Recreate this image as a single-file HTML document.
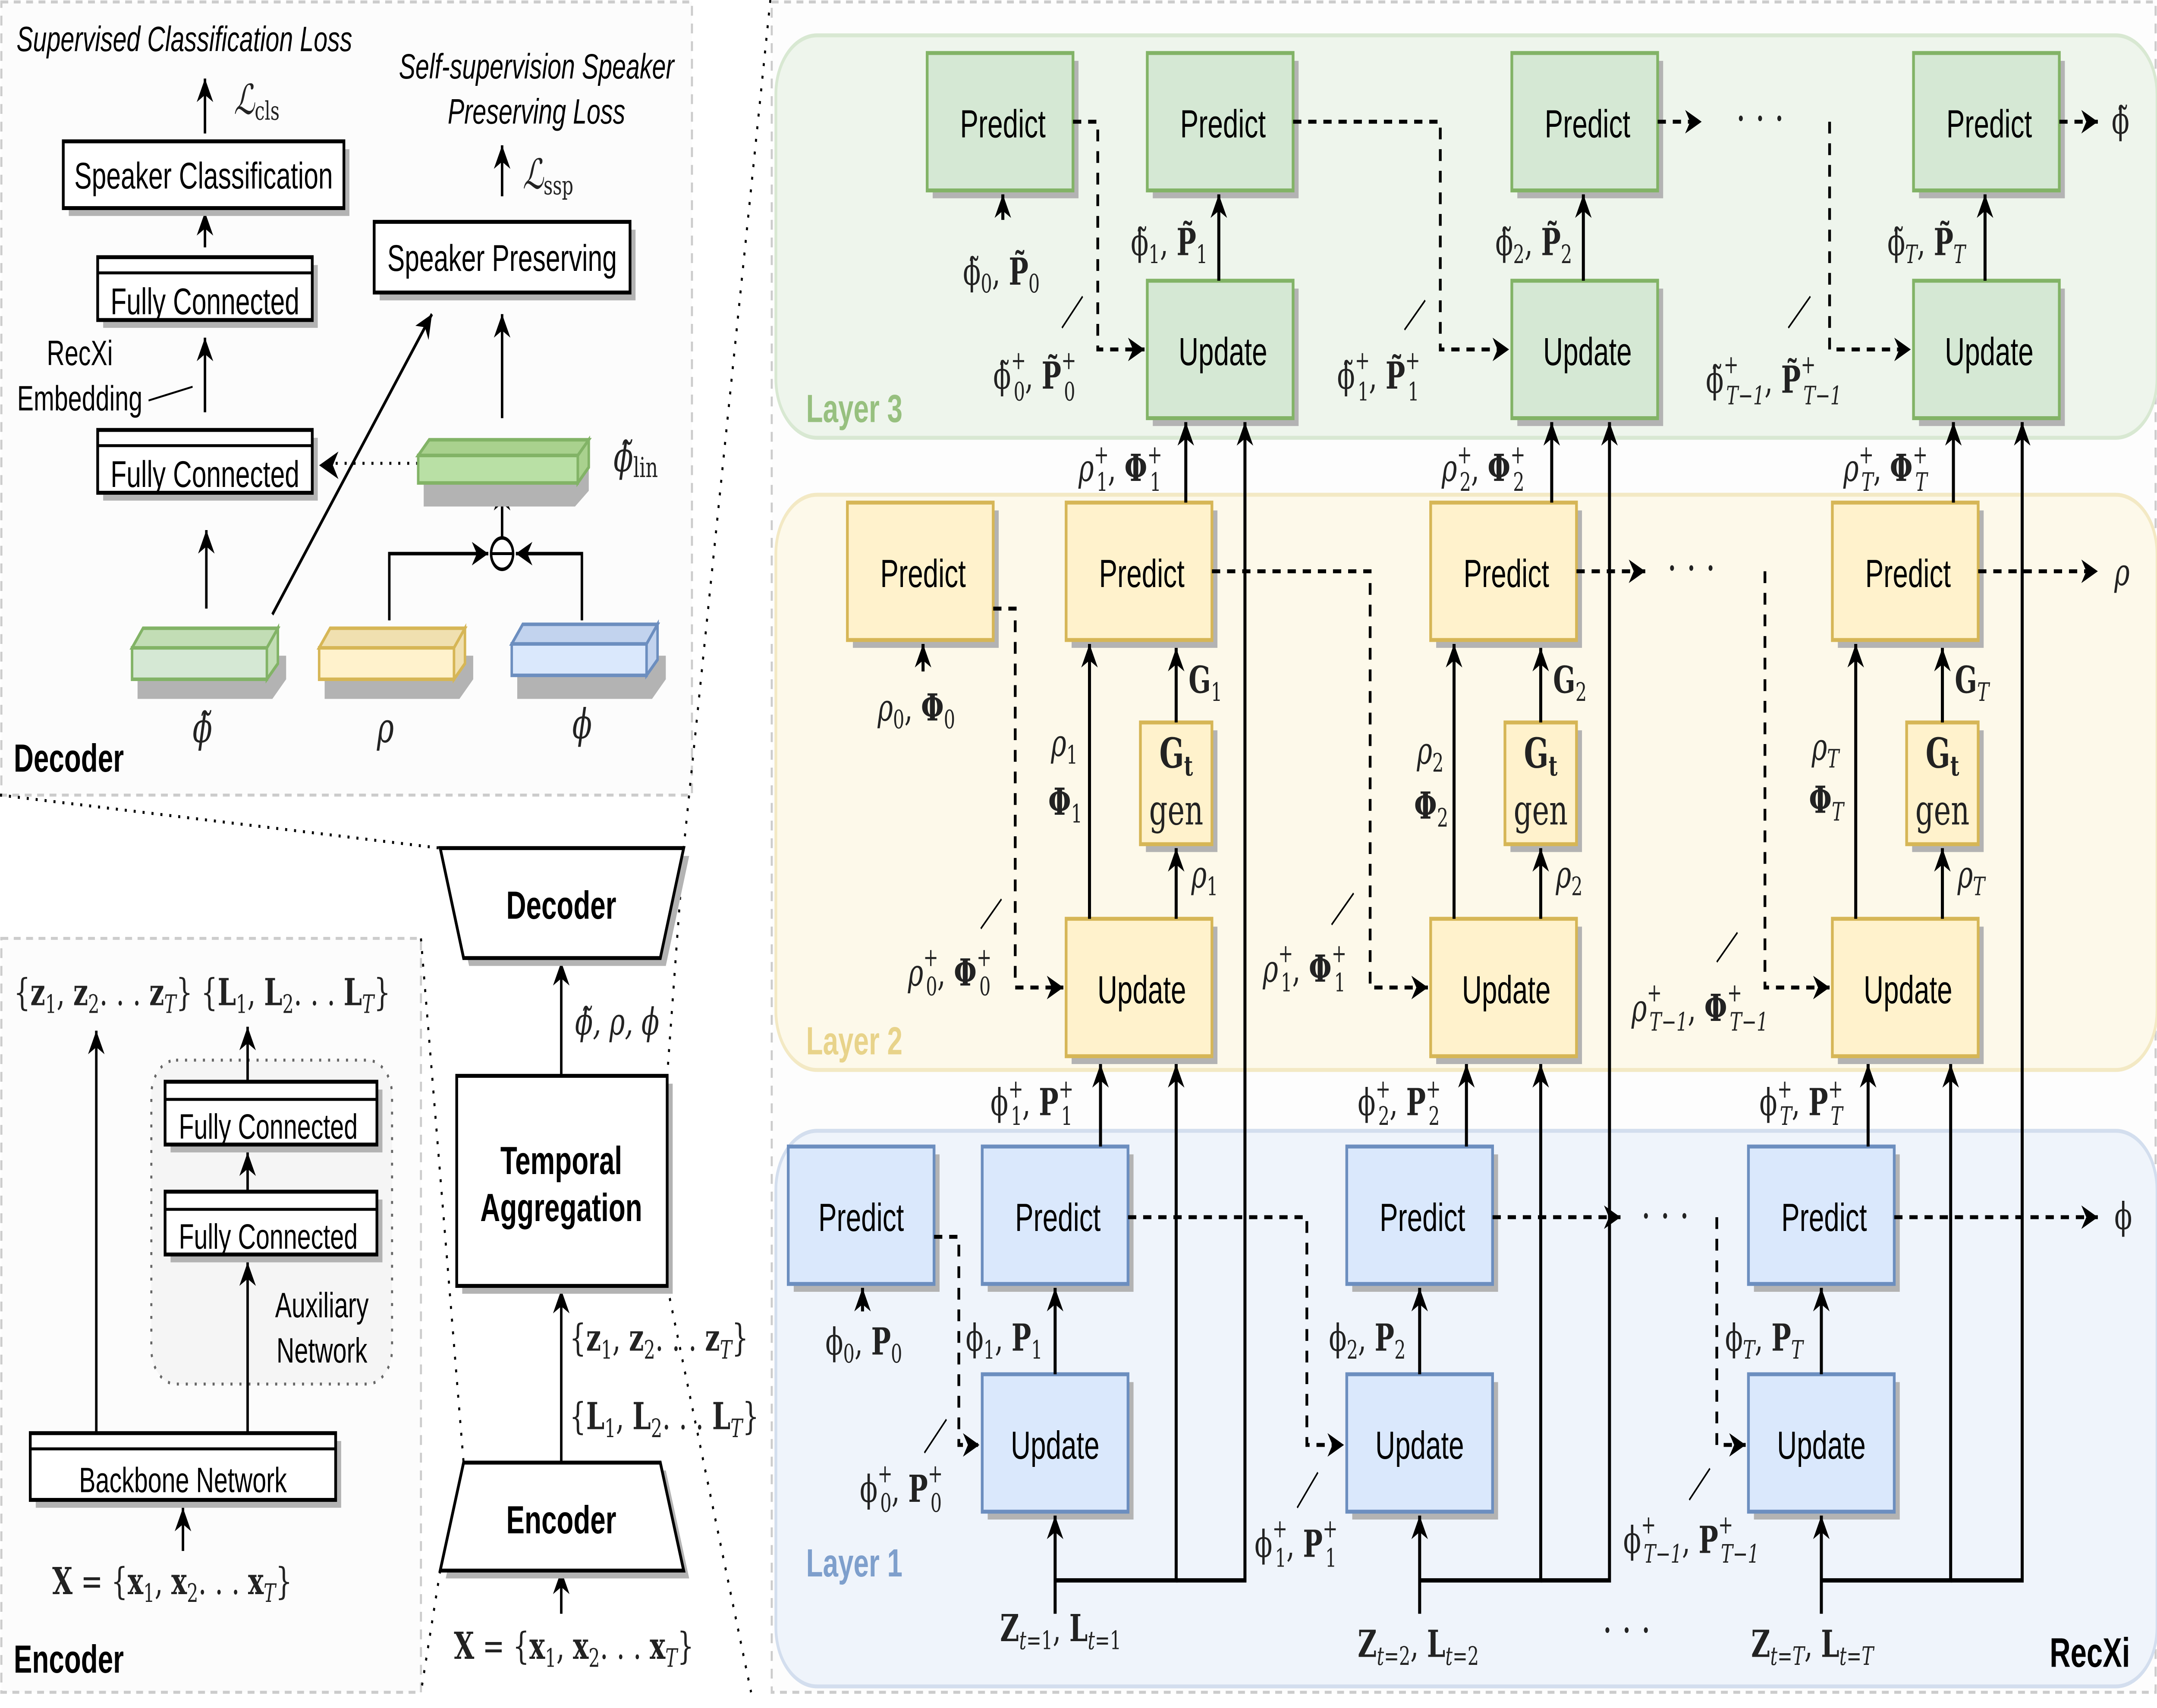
<!DOCTYPE html>
<html><head><meta charset="utf-8"><style>
html,body{margin:0;padding:0;background:#fff;width:100%;height:100%;overflow:hidden}
svg{display:block;width:100vw;height:100vh}
.b{font-family:"Liberation Sans",sans-serif;font-size:20px;fill:#000}
.bb{font-family:"Liberation Sans",sans-serif;font-size:20px;font-weight:bold;fill:#000}
.m{font-family:"DejaVu Serif","Liberation Serif",serif;font-size:19px;fill:#222}
.i{font-family:"Liberation Sans",sans-serif;font-style:italic;font-size:18px;fill:#000}
</style></head><body>
<svg viewBox="0 0 1568 870" preserveAspectRatio="none" xmlns="http://www.w3.org/2000/svg">
<defs>
<marker id="A" viewBox="0 0 10 10" refX="10" refY="5" markerWidth="12" markerHeight="14" markerUnits="userSpaceOnUse" orient="auto"><path d="M0,0 L10,5 L0,10 L3,5z" fill="#000"/></marker>
</defs>
<rect width="1568" height="870" fill="#fff"/>
<rect x="1" y="1" width="502" height="404" fill="#fcfcfc" stroke="#ccc" stroke-width="1.5" stroke-dasharray="5,4"/>
<rect x="1" y="478" width="305" height="384" fill="#fcfcfc" stroke="#ccc" stroke-width="1.5" stroke-dasharray="5,4"/>
<rect x="561" y="1" width="1006" height="861" fill="#fdfdfd" stroke="#ccc" stroke-width="1.5" stroke-dasharray="5,4"/>
<rect x="564" y="18" width="1004" height="205" rx="30" fill="#eef5ec" stroke="#d8e8d2" stroke-width="2"/>
<rect x="564" y="252" width="1004" height="293" rx="30" fill="#fdf9ea" stroke="#f3e9c4" stroke-width="2"/>
<rect x="564" y="576" width="1004" height="283" rx="30" fill="#eff4fb" stroke="#d3deee" stroke-width="2"/>
<text x="586" y="215" class="bb" style="fill:#97c07f">Layer 3</text>
<text x="586" y="537" class="bb" style="fill:#e8d38a">Layer 2</text>
<text x="586" y="803" class="bb" style="fill:#7e9fcc">Layer 1</text>

<g stroke="#000" stroke-width="1.5" stroke-dasharray="1.5,5" fill="none">
<path d="M0,405 L320,432"/>
<path d="M560,0 L497,432 L485,548"/>
<path d="M485,655 L546,862"/>
<path d="M306,478 L337,745"/>
<path d="M320,800 L306,862"/>
</g>

<g stroke-width="2">
<g fill="#d5e8d4" stroke="#82b366">
<rect x="678" y="31" width="106" height="70" fill="#b3b3b3" stroke="none"/><rect x="674" y="27" width="106" height="70"/>
<rect x="838" y="31" width="106" height="70" fill="#b3b3b3" stroke="none"/><rect x="834" y="27" width="106" height="70"/>
<rect x="1103" y="31" width="106" height="70" fill="#b3b3b3" stroke="none"/><rect x="1099" y="27" width="106" height="70"/>
<rect x="1395" y="31" width="106" height="70" fill="#b3b3b3" stroke="none"/><rect x="1391" y="27" width="106" height="70"/>
<rect x="838" y="147" width="106" height="70" fill="#b3b3b3" stroke="none"/><rect x="834" y="143" width="106" height="70"/>
<rect x="1103" y="147" width="106" height="70" fill="#b3b3b3" stroke="none"/><rect x="1099" y="143" width="106" height="70"/>
<rect x="1395" y="147" width="106" height="70" fill="#b3b3b3" stroke="none"/><rect x="1391" y="143" width="106" height="70"/>
</g>
<g fill="#fff2cc" stroke="#d6b656">
<rect x="620" y="260" width="106" height="70" fill="#b3b3b3" stroke="none"/><rect x="616" y="256" width="106" height="70"/>
<rect x="779" y="260" width="106" height="70" fill="#b3b3b3" stroke="none"/><rect x="775" y="256" width="106" height="70"/>
<rect x="1044" y="260" width="106" height="70" fill="#b3b3b3" stroke="none"/><rect x="1040" y="256" width="106" height="70"/>
<rect x="1336" y="260" width="106" height="70" fill="#b3b3b3" stroke="none"/><rect x="1332" y="256" width="106" height="70"/>
<rect x="779" y="472" width="106" height="70" fill="#b3b3b3" stroke="none"/><rect x="775" y="468" width="106" height="70"/>
<rect x="1044" y="472" width="106" height="70" fill="#b3b3b3" stroke="none"/><rect x="1040" y="468" width="106" height="70"/>
<rect x="1336" y="472" width="106" height="70" fill="#b3b3b3" stroke="none"/><rect x="1332" y="468" width="106" height="70"/>
<rect x="833" y="372" width="52" height="62" fill="#b3b3b3" stroke="none"/><rect x="829" y="368" width="52" height="62"/>
<rect x="1098" y="372" width="52" height="62" fill="#b3b3b3" stroke="none"/><rect x="1094" y="368" width="52" height="62"/>
<rect x="1390" y="372" width="52" height="62" fill="#b3b3b3" stroke="none"/><rect x="1386" y="368" width="52" height="62"/>
</g>
<g fill="#dae8fc" stroke="#6c8ebf">
<rect x="577" y="588" width="106" height="70" fill="#b3b3b3" stroke="none"/><rect x="573" y="584" width="106" height="70"/>
<rect x="718" y="588" width="106" height="70" fill="#b3b3b3" stroke="none"/><rect x="714" y="584" width="106" height="70"/>
<rect x="983" y="588" width="106" height="70" fill="#b3b3b3" stroke="none"/><rect x="979" y="584" width="106" height="70"/>
<rect x="1275" y="588" width="106" height="70" fill="#b3b3b3" stroke="none"/><rect x="1271" y="584" width="106" height="70"/>
<rect x="718" y="704" width="106" height="70" fill="#b3b3b3" stroke="none"/><rect x="714" y="700" width="106" height="70"/>
<rect x="983" y="704" width="106" height="70" fill="#b3b3b3" stroke="none"/><rect x="979" y="700" width="106" height="70"/>
<rect x="1275" y="704" width="106" height="70" fill="#b3b3b3" stroke="none"/><rect x="1271" y="700" width="106" height="70"/>
</g>
</g>
<g class="b" text-anchor="middle">
<text x="729" y="70">Predict</text><text x="889" y="70">Predict</text><text x="1154" y="70">Predict</text><text x="1446" y="70">Predict</text>
<text x="889" y="186">Update</text><text x="1154" y="186">Update</text><text x="1446" y="186">Update</text>
<text x="671" y="299">Predict</text><text x="830" y="299">Predict</text><text x="1095" y="299">Predict</text><text x="1387" y="299">Predict</text>
<text x="830" y="511">Update</text><text x="1095" y="511">Update</text><text x="1387" y="511">Update</text>
<text x="626" y="627">Predict</text><text x="769" y="627">Predict</text><text x="1034" y="627">Predict</text><text x="1326" y="627">Predict</text>
<text x="767" y="743">Update</text><text x="1032" y="743">Update</text><text x="1324" y="743">Update</text>
</g>
<g class="m" text-anchor="middle" style="font-size:21px">
<text x="855" y="391" font-weight="bold">G<tspan font-size="14" dy="4">t</tspan></text><text x="855" y="420">gen</text>
<text x="1120" y="391" font-weight="bold">G<tspan font-size="14" dy="4">t</tspan></text><text x="1120" y="420">gen</text>
<text x="1412" y="391" font-weight="bold">G<tspan font-size="14" dy="4">t</tspan></text><text x="1412" y="420">gen</text>
</g>

<g stroke="#000" stroke-width="2" stroke-dasharray="6,5" fill="none" marker-end="url(#A)">
<path d="M780,62 H798 V178 H832"/>
<path d="M940,62 H1047 V178 H1097"/>
<path d="M1205,62 H1237"/>
<path d="M1330,62 V178 H1389"/>
<path d="M1497,62 H1525"/>
<path d="M722,310 H738 V503 H773"/>
<path d="M881,291 H996 V503 H1038"/>
<path d="M1146,291 H1196"/>
<path d="M1283,291 V503 H1330"/>
<path d="M1438,291 H1525"/>
<path d="M679,630 H697 V736 H712"/>
<path d="M820,620 H950 V736 H977"/>
<path d="M1085,620 H1178"/>
<path d="M1248,620 V736 H1269"/>
<path d="M1377,620 H1525"/>
</g>
<g class="m" style="font-size:22px"><text x="1262" y="68">· · ·</text><text x="1212" y="297">· · ·</text><text x="1193" y="627">· · ·</text><text x="1165" y="838">· · ·</text></g>

<g stroke="#000" stroke-width="2.2" fill="none" marker-end="url(#A)">
<path d="M767,822 V772"/><path d="M1032,822 V772"/><path d="M1324,822 V772"/>
<path d="M767,805 H855 V542"/><path d="M855,805 H905 V215"/>
<path d="M1032,805 H1120 V542"/><path d="M1120,805 H1170 V215"/>
<path d="M1324,805 H1418 V542"/><path d="M1418,805 H1470 V215"/>
<path d="M767,700 V656"/><path d="M1032,700 V656"/><path d="M1324,700 V656"/>
<path d="M800,584 V542"/><path d="M1066,584 V542"/><path d="M1358,584 V542"/>
<path d="M792,468 V328"/><path d="M1057,468 V328"/><path d="M1349,468 V328"/>
<path d="M855,468 V432"/><path d="M1120,468 V432"/><path d="M1412,468 V432"/>
<path d="M855,368 V330"/><path d="M1120,368 V330"/><path d="M1412,368 V330"/>
<path d="M862,256 V215"/><path d="M1128,256 V215"/><path d="M1420,256 V215"/>
<path d="M886,143 V99"/><path d="M1151,143 V99"/><path d="M1443,143 V99"/>
<path d="M627,668 V656"/><path d="M671,342 V328"/><path d="M729,112 V99"/>
</g>
<g stroke="#000" stroke-width="1">
<path d="M772,167 L787,151"/><path d="M1021,168 L1036,153"/><path d="M1300,167 L1316,151"/>
<path d="M713,473 L728,458"/><path d="M968,471 L984,455"/><path d="M1248,490 L1263,475"/>
<path d="M672,740 L688,723"/><path d="M943,768 L958,750"/><path d="M1228,764 L1243,748"/>
</g>

<g class="m">
<text x="700" y="145">ϕ̃<tspan font-size="13" dy="4">0</tspan><tspan dy="-4">, </tspan><tspan font-weight="bold">P̃</tspan><tspan font-size="13" dy="4">0</tspan></text>
<text x="722" y="198">ϕ̃<tspan font-size="13" dy="-10">+</tspan><tspan font-size="13" dx="-9" dy="16">0</tspan><tspan dy="-6">, </tspan><tspan font-weight="bold">P̃</tspan><tspan font-size="13" dy="-10">+</tspan><tspan font-size="13" dx="-9" dy="16">0</tspan></text>
<text x="822" y="130">ϕ̃<tspan font-size="13" dy="4">1</tspan><tspan dy="-4">, </tspan><tspan font-weight="bold">P̃</tspan><tspan font-size="13" dy="4">1</tspan></text>
<text x="972" y="198">ϕ̃<tspan font-size="13" dy="-10">+</tspan><tspan font-size="13" dx="-9" dy="16">1</tspan><tspan dy="-6">, </tspan><tspan font-weight="bold">P̃</tspan><tspan font-size="13" dy="-10">+</tspan><tspan font-size="13" dx="-9" dy="16">1</tspan></text>
<text x="1087" y="130">ϕ̃<tspan font-size="13" dy="4">2</tspan><tspan dy="-4">, </tspan><tspan font-weight="bold">P̃</tspan><tspan font-size="13" dy="4">2</tspan></text>
<text x="1240" y="200">ϕ̃<tspan font-size="13" dy="-10">+</tspan><tspan font-size="13" dx="-9" dy="16" font-style="italic">T−1</tspan><tspan dy="-6">, </tspan><tspan font-weight="bold">P̃</tspan><tspan font-size="13" dy="-10">+</tspan><tspan font-size="13" dx="-9" dy="16" font-style="italic">T−1</tspan></text>
<text x="1372" y="130">ϕ̃<tspan font-size="13" dy="4" font-style="italic">T</tspan><tspan dy="-4">, </tspan><tspan font-weight="bold">P̃</tspan><tspan font-size="13" dy="4" font-style="italic">T</tspan></text>
<text x="1535" y="68">ϕ̃</text>
<text x="784" y="245" font-style="italic">ρ<tspan font-size="13" dy="-9">+</tspan><tspan font-size="13" dx="-9" dy="14" font-style="normal">1</tspan><tspan dy="-5" font-style="normal">, </tspan><tspan font-weight="bold" font-style="normal">Φ</tspan><tspan font-size="13" dy="-9">+</tspan><tspan font-size="13" dx="-9" dy="14" font-style="normal">1</tspan></text>
<text x="1048" y="245" font-style="italic">ρ<tspan font-size="13" dy="-9">+</tspan><tspan font-size="13" dx="-9" dy="14" font-style="normal">2</tspan><tspan dy="-5" font-style="normal">, </tspan><tspan font-weight="bold" font-style="normal">Φ</tspan><tspan font-size="13" dy="-9">+</tspan><tspan font-size="13" dx="-9" dy="14" font-style="normal">2</tspan></text>
<text x="1340" y="245" font-style="italic">ρ<tspan font-size="13" dy="-9">+</tspan><tspan font-size="13" dx="-9" dy="14">T</tspan><tspan dy="-5" font-style="normal">, </tspan><tspan font-weight="bold" font-style="normal">Φ</tspan><tspan font-size="13" dy="-9">+</tspan><tspan font-size="13" dx="-9" dy="14">T</tspan></text>

<text x="638" y="367"><tspan font-style="italic">ρ</tspan><tspan font-size="13" dy="4">0</tspan><tspan dy="-4">, </tspan><tspan font-weight="bold">Φ</tspan><tspan font-size="13" dy="4">0</tspan></text>
<text x="660" y="502"><tspan font-style="italic">ρ</tspan><tspan font-size="13" dy="-10">+</tspan><tspan font-size="13" dx="-9" dy="15">0</tspan><tspan dy="-5">, </tspan><tspan font-weight="bold">Φ</tspan><tspan font-size="13" dy="-10">+</tspan><tspan font-size="13" dx="-9" dy="15">0</tspan></text>
<text x="918" y="500"><tspan font-style="italic">ρ</tspan><tspan font-size="13" dy="-10">+</tspan><tspan font-size="13" dx="-9" dy="15">1</tspan><tspan dy="-5">, </tspan><tspan font-weight="bold">Φ</tspan><tspan font-size="13" dy="-10">+</tspan><tspan font-size="13" dx="-9" dy="15">1</tspan></text>
<text x="1186" y="520"><tspan font-style="italic">ρ</tspan><tspan font-size="13" dy="-10">+</tspan><tspan font-size="13" dx="-9" dy="15" font-style="italic">T−1</tspan><tspan dy="-5">, </tspan><tspan font-weight="bold">Φ</tspan><tspan font-size="13" dy="-10">+</tspan><tspan font-size="13" dx="-9" dy="15" font-style="italic">T−1</tspan></text>
<text x="764" y="385"><tspan font-style="italic">ρ</tspan><tspan font-size="13" dy="4">1</tspan></text>
<text x="762" y="415" font-weight="bold">Φ<tspan font-size="13" font-weight="normal" dy="4">1</tspan></text>
<text x="1030" y="389"><tspan font-style="italic">ρ</tspan><tspan font-size="13" dy="4">2</tspan></text>
<text x="1028" y="417" font-weight="bold">Φ<tspan font-size="13" font-weight="normal" dy="4">2</tspan></text>
<text x="1317" y="387"><tspan font-style="italic">ρ</tspan><tspan font-size="13" dy="4" font-style="italic">T</tspan></text>
<text x="1315" y="414" font-weight="bold">Φ<tspan font-size="13" font-weight="normal" font-style="italic" dy="4">T</tspan></text>
<text x="864" y="353" font-weight="bold">G<tspan font-size="13" font-weight="normal" dy="4">1</tspan></text>
<text x="1129" y="353" font-weight="bold">G<tspan font-size="13" font-weight="normal" dy="4">2</tspan></text>
<text x="1421" y="353" font-weight="bold">G<tspan font-size="13" font-weight="normal" font-style="italic" dy="4">T</tspan></text>
<text x="866" y="452"><tspan font-style="italic">ρ</tspan><tspan font-size="13" dy="4">1</tspan></text>
<text x="1131" y="452"><tspan font-style="italic">ρ</tspan><tspan font-size="13" dy="4">2</tspan></text>
<text x="1423" y="452"><tspan font-style="italic">ρ</tspan><tspan font-size="13" dy="4" font-style="italic">T</tspan></text>
<text x="1537" y="298" font-style="italic">ρ</text>

<text x="720" y="568">ϕ<tspan font-size="13" dy="-9">+</tspan><tspan font-size="13" dx="-9" dy="14">1</tspan><tspan dy="-5">, </tspan><tspan font-weight="bold">P</tspan><tspan font-size="13" dy="-9">+</tspan><tspan font-size="13" dx="-9" dy="14">1</tspan></text>
<text x="987" y="568">ϕ<tspan font-size="13" dy="-9">+</tspan><tspan font-size="13" dx="-9" dy="14">2</tspan><tspan dy="-5">, </tspan><tspan font-weight="bold">P</tspan><tspan font-size="13" dy="-9">+</tspan><tspan font-size="13" dx="-9" dy="14">2</tspan></text>
<text x="1279" y="568">ϕ<tspan font-size="13" dy="-9">+</tspan><tspan font-size="13" dx="-9" dy="14" font-style="italic">T</tspan><tspan dy="-5">, </tspan><tspan font-weight="bold">P</tspan><tspan font-size="13" dy="-9">+</tspan><tspan font-size="13" dx="-9" dy="14" font-style="italic">T</tspan></text>

<text x="600" y="690">ϕ<tspan font-size="13" dy="4">0</tspan><tspan dy="-4">, </tspan><tspan font-weight="bold">P</tspan><tspan font-size="13" dy="4">0</tspan></text>
<text x="625" y="765">ϕ<tspan font-size="13" dy="-10">+</tspan><tspan font-size="13" dx="-9" dy="15">0</tspan><tspan dy="-5">, </tspan><tspan font-weight="bold">P</tspan><tspan font-size="13" dy="-10">+</tspan><tspan font-size="13" dx="-9" dy="15">0</tspan></text>
<text x="702" y="688">ϕ<tspan font-size="13" dy="4">1</tspan><tspan dy="-4">, </tspan><tspan font-weight="bold">P</tspan><tspan font-size="13" dy="4">1</tspan></text>
<text x="912" y="793">ϕ<tspan font-size="13" dy="-10">+</tspan><tspan font-size="13" dx="-9" dy="15">1</tspan><tspan dy="-5">, </tspan><tspan font-weight="bold">P</tspan><tspan font-size="13" dy="-10">+</tspan><tspan font-size="13" dx="-9" dy="15">1</tspan></text>
<text x="966" y="688">ϕ<tspan font-size="13" dy="4">2</tspan><tspan dy="-4">, </tspan><tspan font-weight="bold">P</tspan><tspan font-size="13" dy="4">2</tspan></text>
<text x="1180" y="791">ϕ<tspan font-size="13" dy="-10">+</tspan><tspan font-size="13" dx="-9" dy="15" font-style="italic">T−1</tspan><tspan dy="-5">, </tspan><tspan font-weight="bold">P</tspan><tspan font-size="13" dy="-10">+</tspan><tspan font-size="13" dx="-9" dy="15" font-style="italic">T−1</tspan></text>
<text x="1254" y="688">ϕ<tspan font-size="13" dy="4" font-style="italic">T</tspan><tspan dy="-4">, </tspan><tspan font-weight="bold">P</tspan><tspan font-size="13" dy="4" font-style="italic">T</tspan></text>
<text x="1537" y="626">ϕ</text>

<text x="727" y="836"><tspan font-weight="bold">Z</tspan><tspan font-size="13" dy="4" font-style="italic">t</tspan><tspan font-size="13">=1</tspan><tspan dy="-4">, </tspan><tspan font-weight="bold">L</tspan><tspan font-size="13" dy="4" font-style="italic">t</tspan><tspan font-size="13">=1</tspan></text>
<text x="987" y="844"><tspan font-weight="bold">Z</tspan><tspan font-size="13" dy="4" font-style="italic">t</tspan><tspan font-size="13">=2</tspan><tspan dy="-4">, </tspan><tspan font-weight="bold">L</tspan><tspan font-size="13" dy="4" font-style="italic">t</tspan><tspan font-size="13">=2</tspan></text>
<text x="1273" y="844"><tspan font-weight="bold">Z</tspan><tspan font-size="13" dy="4" font-style="italic">t</tspan><tspan font-size="13">=</tspan><tspan font-size="13" font-style="italic">T</tspan><tspan dy="-4">, </tspan><tspan font-weight="bold">L</tspan><tspan font-size="13" dy="4" font-style="italic">t</tspan><tspan font-size="13">=</tspan><tspan font-size="13" font-style="italic">T</tspan></text>
</g>
<text x="1490" y="849" class="bb" style="font-size:21px">RecXi</text>

<text x="12" y="26" class="i">Supervised Classification Loss</text>
<text x="390" y="40" class="i" text-anchor="middle">Self-supervision Speaker</text>
<text x="390" y="63" class="i" text-anchor="middle">Preserving Loss</text>
<g stroke="#000" stroke-width="1.8" fill="none" marker-end="url(#A)">
<path d="M149,68 V40"/><path d="M149,126 V108"/><path d="M149,210 V172"/><path d="M150,310 V270"/>
<path d="M365,100 V74"/><path d="M365,213 V160"/><path d="M198,313 L314,160"/>
<path d="M365,274 V248"/>
<path d="M283,316 V282 H355"/><path d="M423,316 V282 H375"/>
</g>
<path d="M304,236 H240" stroke="#000" stroke-width="1.5" stroke-dasharray="1.5,5" fill="none"/>
<path d="M246,230 L232,237 L246,244 L242,237z" fill="#000"/>
<circle cx="365" cy="282" r="8" fill="#fff" stroke="#000" stroke-width="1.8"/>
<path d="M357,282 H373" stroke="#000" stroke-width="1.5"/>
<text x="170" y="58" class="m" style="font-size:21px;font-style:italic">ℒ<tspan font-size="13" font-style="normal" dy="3">cls</tspan></text>
<text x="380" y="96" class="m" style="font-size:21px;font-style:italic">ℒ<tspan font-size="13" font-style="normal" dy="3">ssp</tspan></text>
<rect x="50" y="76" width="204" height="34" fill="#b3b3b3"/><rect x="46" y="72" width="204" height="34" fill="#fff" stroke="#000" stroke-width="2"/>
<text x="148" y="96" class="b" text-anchor="middle" style="font-size:19px">Speaker Classification</text>
<rect x="276" y="117" width="186" height="36" fill="#b3b3b3"/><rect x="272" y="113" width="186" height="36" fill="#fff" stroke="#000" stroke-width="2"/>
<text x="365" y="138" class="b" text-anchor="middle" style="font-size:19px">Speaker Preserving</text>
<rect x="75" y="135" width="156" height="32" fill="#b3b3b3"/><rect x="71" y="131" width="156" height="32" fill="#fff" stroke="#000" stroke-width="2"/><path d="M71,139 H227" stroke="#000" stroke-width="1.5"/>
<text x="149" y="160" class="b" text-anchor="middle" style="font-size:19px">Fully Connected</text>
<rect x="75" y="223" width="156" height="32" fill="#b3b3b3"/><rect x="71" y="219" width="156" height="32" fill="#fff" stroke="#000" stroke-width="2"/><path d="M71,227 H227" stroke="#000" stroke-width="1.5"/>
<text x="149" y="248" class="b" text-anchor="middle" style="font-size:19px">Fully Connected</text>
<text x="58" y="186" class="b" text-anchor="middle" style="font-size:18px">RecXi</text>
<text x="58" y="209" class="b" text-anchor="middle" style="font-size:18px">Embedding</text>
<path d="M108,204 L140,197" stroke="#000" stroke-width="1"/>
<g stroke-width="1.8">
<path d="M100,334 H208 L208,346 L198,356 H100z" fill="#b3b3b3" stroke="none"/>
<path d="M96,330 L104,320 H202 L194,330z M194,330 L202,320 V338 L194,346z" fill="#c2ddb5" stroke="#82b366"/><rect x="96" y="330" width="98" height="16" fill="#d5e8d4" stroke="#82b366"/>
<path d="M236,334 H344 L344,346 L334,356 H236z" fill="#b3b3b3" stroke="none"/>
<path d="M232,330 L240,320 H338 L330,330z M330,330 L338,320 V338 L330,346z" fill="#f0e0b0" stroke="#d6b656"/><rect x="232" y="330" width="98" height="16" fill="#fff2cc" stroke="#d6b656"/>
<path d="M376,334 H484 L484,346 L474,356 H376z" fill="#b3b3b3" stroke="none"/>
<path d="M372,328 L380,318 H478 L470,328z M470,328 L478,318 V336 L470,344z" fill="#c2d3ee" stroke="#6c8ebf"/><rect x="372" y="328" width="98" height="16" fill="#dae8fc" stroke="#6c8ebf"/>
<path d="M308,238 H428 L428,250 L418,258 H308z" fill="#b3b3b3" stroke="none"/>
<path d="M304,232 L312,224 H428 L420,232z M420,232 L428,224 V238 L420,246z" fill="#a9d18e" stroke="#82b366"/><rect x="304" y="232" width="116" height="14" fill="#b9e0a5" stroke="#82b366"/>
</g>
<g class="m" style="font-size:21px;font-style:italic"><text x="140" y="378">ϕ̃</text><text x="274" y="378">ρ</text><text x="416" y="376">ϕ</text><text x="446" y="240">ϕ̃<tspan font-size="14" font-style="normal" dy="3">lin</tspan></text></g>
<text x="10" y="393" class="bb">Decoder</text>

<text x="10" y="512" class="m"><tspan>{</tspan><tspan font-weight="bold">z</tspan><tspan font-size="13" dy="4">1</tspan><tspan dy="-4">, </tspan><tspan font-weight="bold">z</tspan><tspan font-size="13" dy="4">2</tspan><tspan dy="-4">. . . </tspan><tspan font-weight="bold">z</tspan><tspan font-size="13" dy="4" font-style="italic">T</tspan><tspan dy="-4">} {</tspan><tspan font-weight="bold">L</tspan><tspan font-size="13" dy="4">1</tspan><tspan dy="-4">, </tspan><tspan font-weight="bold">L</tspan><tspan font-size="13" dy="4">2</tspan><tspan dy="-4">. . . </tspan><tspan font-weight="bold">L</tspan><tspan font-size="13" dy="4" font-style="italic">T</tspan><tspan dy="-4">}</tspan></text>
<rect x="110" y="540" width="175" height="165" rx="18" fill="#f5f5f5" stroke="#666" stroke-width="1.5" stroke-dasharray="1.5,5"/>
<g stroke="#000" stroke-width="1.8" fill="none" marker-end="url(#A)">
<path d="M70,730 V525"/><path d="M180,551 V523"/><path d="M180,607 V587"/><path d="M180,730 V643"/><path d="M133,790 V768"/>
<path d="M408,548 V490"/><path d="M408,745 V657"/><path d="M408,822 V800"/>
</g>
<rect x="124" y="555" width="154" height="32" fill="#b3b3b3"/><rect x="120" y="551" width="154" height="32" fill="#fff" stroke="#000" stroke-width="2"/><path d="M120,560 H274" stroke="#000" stroke-width="1.5"/>
<text x="195" y="580" class="b" text-anchor="middle" style="font-size:18px">Fully Connected</text>
<rect x="124" y="611" width="154" height="32" fill="#b3b3b3"/><rect x="120" y="607" width="154" height="32" fill="#fff" stroke="#000" stroke-width="2"/><path d="M120,616 H274" stroke="#000" stroke-width="1.5"/>
<text x="195" y="636" class="b" text-anchor="middle" style="font-size:18px">Fully Connected</text>
<text x="234" y="671" class="b" text-anchor="middle" style="font-size:18px">Auxiliary</text>
<text x="234" y="694" class="b" text-anchor="middle" style="font-size:18px">Network</text>
<rect x="26" y="734" width="222" height="34" fill="#b3b3b3"/><rect x="22" y="730" width="222" height="34" fill="#fff" stroke="#000" stroke-width="2"/><path d="M22,738 H244" stroke="#000" stroke-width="1.5"/>
<text x="133" y="760" class="b" text-anchor="middle" style="font-size:18px">Backbone Network</text>
<text x="38" y="812" class="m"><tspan font-weight="bold">X</tspan> = {<tspan font-weight="bold">x</tspan><tspan font-size="13" dy="4">1</tspan><tspan dy="-4">, </tspan><tspan font-weight="bold">x</tspan><tspan font-size="13" dy="4">2</tspan><tspan dy="-4">. . . </tspan><tspan font-weight="bold">x</tspan><tspan font-size="13" dy="4" font-style="italic">T</tspan><tspan dy="-4">}</tspan></text>
<text x="10" y="852" class="bb">Encoder</text>

<path d="M324,436 H501 L484,492 H341z" fill="#b3b3b3"/>
<path d="M320,432 H497 L480,488 H337z" fill="#fff" stroke="#000" stroke-width="2"/>
<text x="408" y="468" class="bb" text-anchor="middle">Decoder</text>
<rect x="336" y="552" width="153" height="107" fill="#b3b3b3"/><rect x="332" y="548" width="153" height="107" fill="#fff" stroke="#000" stroke-width="2"/>
<text x="408" y="598" class="bb" text-anchor="middle">Temporal</text>
<text x="408" y="622" class="bb" text-anchor="middle">Aggregation</text>
<path d="M341,749 H484 L501,804 H324z" fill="#b3b3b3"/>
<path d="M337,745 H480 L497,800 H320z" fill="#fff" stroke="#000" stroke-width="2"/>
<text x="408" y="781" class="bb" text-anchor="middle">Encoder</text>
<text x="418" y="527" class="m"><tspan font-style="italic">ϕ̃, ρ, ϕ</tspan></text>
<text x="414" y="688" class="m">{<tspan font-weight="bold">z</tspan><tspan font-size="13" dy="4">1</tspan><tspan dy="-4">, </tspan><tspan font-weight="bold">z</tspan><tspan font-size="13" dy="4">2</tspan><tspan dy="-4">. . . </tspan><tspan font-weight="bold">z</tspan><tspan font-size="13" dy="4" font-style="italic">T</tspan><tspan dy="-4">}</tspan></text>
<text x="414" y="728" class="m">{<tspan font-weight="bold">L</tspan><tspan font-size="13" dy="4">1</tspan><tspan dy="-4">, </tspan><tspan font-weight="bold">L</tspan><tspan font-size="13" dy="4">2</tspan><tspan dy="-4">. . . </tspan><tspan font-weight="bold">L</tspan><tspan font-size="13" dy="4" font-style="italic">T</tspan><tspan dy="-4">}</tspan></text>
<text x="330" y="845" class="m"><tspan font-weight="bold">X</tspan> = {<tspan font-weight="bold">x</tspan><tspan font-size="13" dy="4">1</tspan><tspan dy="-4">, </tspan><tspan font-weight="bold">x</tspan><tspan font-size="13" dy="4">2</tspan><tspan dy="-4">. . . </tspan><tspan font-weight="bold">x</tspan><tspan font-size="13" dy="4" font-style="italic">T</tspan><tspan dy="-4">}</tspan></text>
</svg>
</body></html>
